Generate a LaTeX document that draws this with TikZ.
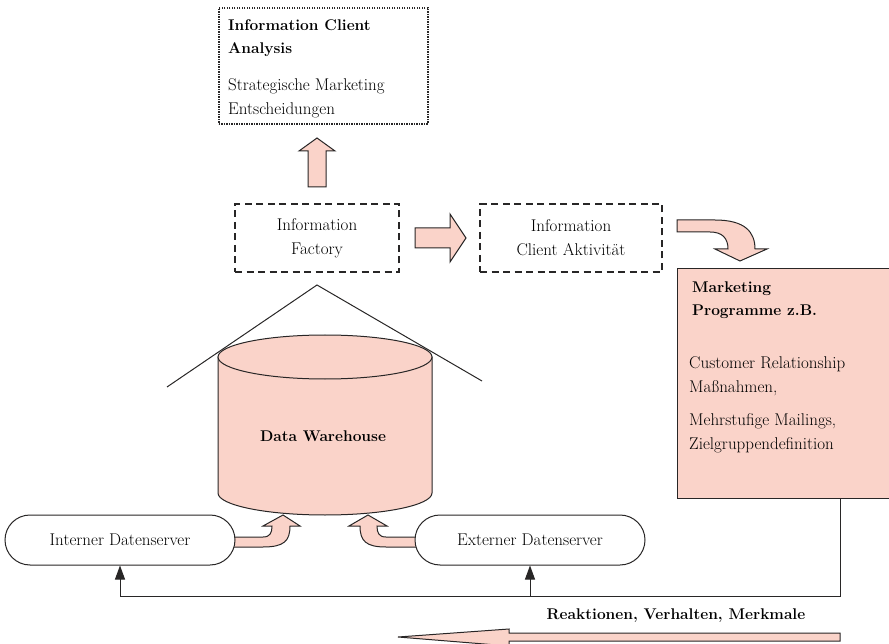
\documentclass[tikz,border=0pt]{standalone}
\usepackage{fontspec}
\usepackage{xcolor}
\usetikzlibrary{arrows.meta,positioning}
\definecolor{lachs}{RGB}{250,211,201}
\definecolor{rand}{RGB}{40,38,38}

\begin{document}
\begin{tikzpicture}[x=1pt,y=-1pt,
    txt/.style={font=\fontsize{17}{24}\selectfont},
    bld/.style={font=\fontsize{15.5}{23}\selectfont\bfseries},
    dashbox/.style={draw=rand, dash pattern=on 7pt off 4.5pt, line width=1.4pt,
        align=center, txt, minimum height=68pt},
    dotbox/.style={draw=rand, dash pattern=on 1.4pt off 1.1pt, line width=1.8pt},
    pill/.style={draw=rand, fill=white, rounded corners=25pt, minimum width=230pt,
        minimum height=50pt, txt, line width=1pt},
    blockarrow/.style={draw=rand, fill=lachs, line width=1pt},
    fbline/.style={draw=rand, line width=1pt, -{Triangle[length=14pt,width=10pt]}}]
    \def\cx{325}
    \def\rx{107}
    \def\ry{22}
    \useasboundingbox (0,0) rectangle (889,644);

    % oben: Analyse
    \node[dotbox, minimum width=209pt, minimum height=116pt, anchor=north west] (analysis) at (218,7) {};
    \node[bld, anchor=north west, align=left, inner sep=0pt] (anhead) at (228,19) {Information Client\\Analysis};
    \node[txt, anchor=north west, align=left, inner sep=0pt] (antext) at (228,78) {Strategische Marketing\\Entscheidungen};

    % mitte
    \node[dashbox, minimum width=164pt] (factory) at (317,238) {Information\\Factory};
    \node[dashbox, minimum width=182pt] (client) at (571,238) {Information\\Client Aktivit\"at};

    \filldraw[blockarrow] (308,187) -- (308,151) -- (299,151) -- (317,138) -- (335,151) -- (326,151) -- (326,187) -- cycle;
    \filldraw[blockarrow] (415,228) -- (450,228) -- (450,214) -- (466,238) -- (450,262) -- (450,248) -- (415,248) -- cycle;
    \filldraw[blockarrow] (677,220) -- (715,220) .. controls (745,220) and (755,232) .. (755,249)
        -- (767,249) -- (740,261) -- (715,249) -- (728,249)
        .. controls (728,238) and (722,232) .. (710,232) -- (677,232) -- cycle;

    % Marketing Programme
    \node[fill=lachs, anchor=north west, minimum width=212pt, minimum height=229pt, inner sep=0pt] (mkt) at (677,269) {};
    \draw[rand, line width=1pt] (mkt.north east) -- (mkt.north west) -- (mkt.south west) -- (mkt.south east);
    \node[bld, anchor=north west, align=left, inner sep=0pt] (mkthead) at (692,282) {Marketing\\Programme z.B.};
    \node[txt, anchor=north west, align=left, inner sep=0pt] (mkttext) at (689,356) {Customer Relationship\\Ma\ss nahmen,\\[9pt]Mehrstufige Mailings,\\Zielgruppendefinition};

    % Data Warehouse mit Dach
    \draw[rand, line width=1pt] (167,387) -- (317,285) -- (482,381);
    \filldraw[blockarrow] (\cx-\rx,357) -- (\cx-\rx,493) arc[start angle=180, end angle=0, x radius=\rx, y radius=\ry] -- (\cx+\rx,357) -- cycle;
    \filldraw[blockarrow] (\cx,357) ellipse [x radius=\rx, y radius=\ry];
    \node[bld] (dw) at (323,436) {Data Warehouse};

    % Datenserver
    \filldraw[blockarrow] (232,537) -- (263,537) .. controls (270,537) and (272,533) .. (272,526)
        -- (263,526) -- (283,515) -- (300,526) -- (290,526)
        .. controls (290,541) and (284,547) .. (263,547) -- (232,547) -- cycle;
    \filldraw[blockarrow] (418,537) -- (386,537) .. controls (379,537) and (377,533) .. (377,526)
        -- (387,526) -- (368,515) -- (349,526) -- (360,526)
        .. controls (360,541) and (366,547) .. (386,547) -- (418,547) -- cycle;
    \node[pill] (interner) at (120,540) {Interner Datenserver};
    \node[pill] (externer) at (530,540) {Externer Datenserver};

    % Rueckkopplung
    \coordinate (fbr) at (840,596);
    \draw[fbline] (mkt.south -| fbr) -- (fbr) -| (interner.south);
    \draw[fbline] (externer.south |- fbr) -- (externer.south);
    \node[bld] (fblabel) at (676,616) {Reaktionen, Verhalten, Merkmale};
    \filldraw[blockarrow] (840,633) -- (509,633) -- (509,629) -- (398,637) -- (509,646) -- (509,641) -- (840,641) -- cycle;

\end{tikzpicture}
\end{document}
